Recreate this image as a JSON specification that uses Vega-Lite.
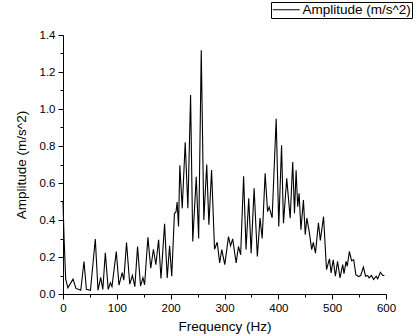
{
  "$schema": "https://vega.github.io/schema/vega-lite/v6.json",
  "width": 323,
  "height": 259,
  "autosize": {"type": "none"},
  "padding": {"left": 63, "top": 35, "right": 31, "bottom": 42},
  "background": "white",
  "config": {
    "font": "Liberation Sans",
    "view": {"stroke": null},
    "axis": {
      "domainColor": "black",
      "tickColor": "black",
      "labelColor": "black",
      "titleColor": "black",
      "grid": false,
      "labelFontSize": 11.5,
      "titleFontSize": 13.5,
      "titleFontWeight": "normal",
      "labelFont": "Liberation Sans",
      "titleFont": "Liberation Sans",
      "domainWidth": 1,
      "tickWidth": 1
    }
  },
  "data": {
    "values": [
      {"f": 0, "a": 0.5}, {"f": 2, "a": 0.3}, {"f": 5, "a": 0.08}, {"f": 9, "a": 0.033},
      {"f": 18.6, "a": 0.08}, {"f": 24, "a": 0.03}, {"f": 33, "a": 0.02}, {"f": 39, "a": 0.176},
      {"f": 43.5, "a": 0.025}, {"f": 51, "a": 0.02}, {"f": 60, "a": 0.297}, {"f": 65, "a": 0.02},
      {"f": 70, "a": 0.09}, {"f": 74, "a": 0.025}, {"f": 78.6, "a": 0.223}, {"f": 84, "a": 0.025},
      {"f": 88, "a": 0.06}, {"f": 91, "a": 0.04}, {"f": 99, "a": 0.23}, {"f": 104, "a": 0.048},
      {"f": 110, "a": 0.115}, {"f": 113, "a": 0.075}, {"f": 118, "a": 0.278}, {"f": 124, "a": 0.053},
      {"f": 129, "a": 0.1}, {"f": 133.5, "a": 0.04}, {"f": 138.5, "a": 0.257}, {"f": 144, "a": 0.043},
      {"f": 148.5, "a": 0.088}, {"f": 151.6, "a": 0.05}, {"f": 157.7, "a": 0.307}, {"f": 163, "a": 0.14},
      {"f": 168, "a": 0.242}, {"f": 172.5, "a": 0.158}, {"f": 177.6, "a": 0.293}, {"f": 182, "a": 0.084},
      {"f": 188.7, "a": 0.379}, {"f": 193.6, "a": 0.087}, {"f": 198, "a": 0.26}, {"f": 202, "a": 0.096},
      {"f": 207, "a": 0.435}, {"f": 210, "a": 0.445}, {"f": 212, "a": 0.497}, {"f": 214.6, "a": 0.365},
      {"f": 217, "a": 0.696}, {"f": 221.5, "a": 0.463}, {"f": 227, "a": 0.82}, {"f": 232, "a": 0.463},
      {"f": 237, "a": 1.076}, {"f": 241, "a": 0.284}, {"f": 247.5, "a": 0.633}, {"f": 252, "a": 0.3},
      {"f": 256.8, "a": 1.318}, {"f": 261.6, "a": 0.4}, {"f": 267, "a": 0.7}, {"f": 271, "a": 0.374},
      {"f": 276, "a": 0.67}, {"f": 281.5, "a": 0.242}, {"f": 286.5, "a": 0.28}, {"f": 291, "a": 0.168},
      {"f": 295, "a": 0.24}, {"f": 300.5, "a": 0.159}, {"f": 307.4, "a": 0.31}, {"f": 311.3, "a": 0.26},
      {"f": 315.2, "a": 0.298}, {"f": 321.6, "a": 0.168}, {"f": 326, "a": 0.257}, {"f": 330, "a": 0.212},
      {"f": 335.5, "a": 0.637}, {"f": 340, "a": 0.24}, {"f": 345, "a": 0.517}, {"f": 349.5, "a": 0.221},
      {"f": 355, "a": 0.571}, {"f": 361, "a": 0.203}, {"f": 366, "a": 0.41}, {"f": 370, "a": 0.3},
      {"f": 375.5, "a": 0.652}, {"f": 380, "a": 0.445}, {"f": 383, "a": 0.47}, {"f": 388.5, "a": 0.412},
      {"f": 396, "a": 0.947}, {"f": 400.8, "a": 0.365}, {"f": 406, "a": 0.804}, {"f": 409.5, "a": 0.383},
      {"f": 415.6, "a": 0.625}, {"f": 422, "a": 0.41}, {"f": 426.7, "a": 0.714}, {"f": 430, "a": 0.437},
      {"f": 433, "a": 0.669}, {"f": 436, "a": 0.472}, {"f": 438.6, "a": 0.544}, {"f": 442, "a": 0.347},
      {"f": 446.6, "a": 0.508}, {"f": 450, "a": 0.32}, {"f": 453, "a": 0.41}, {"f": 457.7, "a": 0.33},
      {"f": 462, "a": 0.24}, {"f": 465, "a": 0.279}, {"f": 469, "a": 0.221}, {"f": 474.5, "a": 0.385},
      {"f": 478, "a": 0.29}, {"f": 484, "a": 0.418}, {"f": 489.5, "a": 0.132}, {"f": 495, "a": 0.19},
      {"f": 498, "a": 0.114}, {"f": 502, "a": 0.185}, {"f": 506, "a": 0.096}, {"f": 510, "a": 0.176},
      {"f": 514.6, "a": 0.087}, {"f": 519.6, "a": 0.159}, {"f": 522, "a": 0.11}, {"f": 525.8, "a": 0.176},
      {"f": 528, "a": 0.15}, {"f": 532, "a": 0.23}, {"f": 536, "a": 0.18}, {"f": 540, "a": 0.185},
      {"f": 544, "a": 0.105}, {"f": 549, "a": 0.094}, {"f": 553, "a": 0.1}, {"f": 558, "a": 0.146},
      {"f": 562, "a": 0.096}, {"f": 566, "a": 0.1}, {"f": 568.6, "a": 0.087}, {"f": 573, "a": 0.1},
      {"f": 577, "a": 0.078}, {"f": 581.7, "a": 0.096}, {"f": 584.6, "a": 0.082}, {"f": 589.5, "a": 0.117},
      {"f": 594, "a": 0.1}, {"f": 597, "a": 0.1}
    ]
  },
  "mark": {"type": "line", "strokeWidth": 1.1, "interpolate": "linear"},
  "encoding": {
    "x": {
      "field": "f",
      "type": "quantitative",
      "scale": {"domain": [0, 600], "nice": false, "zero": false},
      "axis": {
        "title": "Frequency (Hz)",
        "values": [0, 50, 100, 150, 200, 250, 300, 350, 400, 450, 500, 550, 600],
        "labelExpr": "datum.value % 100 === 0 ? format(datum.value, 'd') : ''",
        "tickSize": {"condition": {"test": "datum.value % 100 === 0", "value": 5}, "value": 3},
        "labelPadding": 3,
        "titlePadding": 6,
        "labelFlush": false,
        "labelOverlap": false
      }
    },
    "y": {
      "field": "a",
      "type": "quantitative",
      "scale": {"domain": [0, 1.4], "nice": false},
      "axis": {
        "title": "Amplitude (m/s^2)",
        "values": [0, 0.1, 0.2, 0.3, 0.4, 0.5, 0.6, 0.7, 0.8, 0.9, 1.0, 1.1, 1.2, 1.3, 1.4],
        "labelExpr": "round(datum.value * 10) % 2 === 0 ? format(datum.value, '.1f') : ''",
        "tickSize": {"condition": {"test": "round(datum.value * 10) % 2 === 0", "value": 5}, "value": 3},
        "labelPadding": 3,
        "titlePadding": 11,
        "labelFlush": false,
        "labelOverlap": false
      }
    },
    "color": {
      "datum": "Amplitude (m/s^2)",
      "scale": {"range": ["black"]},
      "legend": {
        "title": null,
        "orient": "none",
        "legendX": 208,
        "legendY": -33,
        "strokeColor": "black",
        "fillColor": "white",
        "padding": 1,
        "symbolType": "M-1,0H3.5",
        "symbolSize": 144,
        "symbolStrokeWidth": 1,
        "labelFontSize": 13.5,
        "labelFont": "Liberation Sans",
        "labelColor": "black",
        "labelOffset": 17,
        "cornerRadius": 0
      }
    }
  }
}
